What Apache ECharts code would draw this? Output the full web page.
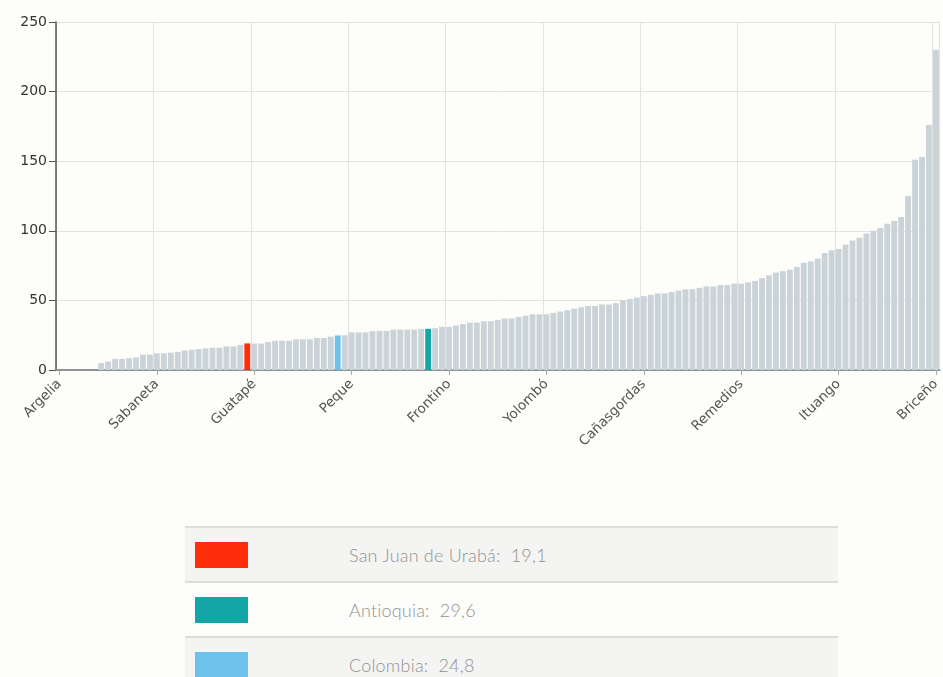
<!DOCTYPE html>
<html>
<head>
<meta charset="utf-8">
<script src="https://cdn.jsdelivr.net/npm/echarts@6/dist/echarts.min.js"></script>
<style>
  html, body { margin: 0; padding: 0; background: #fdfdf9; }
  #wrap { position: relative; width: 943px; height: 677px; overflow: hidden; }
  #chart { position: absolute; left: 0; top: 0; width: 943px; height: 677px; }
  #legend { position: absolute; left: 185px; top: 526px; width: 653px; border-collapse: collapse;
            font-family: "Lato", "Noto Sans", sans-serif; font-weight: 300; }
  #legend td { height: 53px; border-top: 2px solid #dcdcda; padding: 0; }
  #legend tr:nth-child(odd) td { background: #f4f4f2; }
  #legend tr:nth-child(even) td { background: #fdfdfb; }
  #legend .sw { width: 164px; }
  #legend .sw div { width: 53px; height: 26px; margin-left: 10px; }
  #legend .tx { color: #929292; font-size: 18px; letter-spacing: 0.2px; }
</style>
</head>
<body>
<div id="wrap">
  <div id="chart"></div>
  <table id="legend"></table>
</div>
<script>
// Tick-label categories (shown every 14th bar)
const labeledNames = ["Argelia", "Sabaneta", "Guatapé", "Peque", "Frontino", "Yolombó",
  "Cañasgordas", "Remedios", "Ituango", "Briceño"];
// Other municipalities (labels hidden in the chart)
const otherNames = ["Medellín", "Abejorral", "Abriaquí", "Alejandría", "Amagá", "Amalfi", "Andes",
  "Angelópolis", "Angostura", "Anorí", "Anzá", "Apartadó", "Arboletes", "Armenia", "Barbosa", "Bello",
  "Belmira", "Betania", "Betulia", "Buriticá", "Cáceres", "Caicedo", "Caldas", "Campamento", "Caracolí",
  "Caramanta", "Carepa", "Carolina del Príncipe", "Caucasia", "Chigorodó", "Cisneros", "Ciudad Bolívar",
  "Cocorná", "Concepción", "Concordia", "Copacabana", "Dabeiba", "Donmatías", "Ebéjico", "El Bagre",
  "El Carmen de Viboral", "El Peñol", "El Retiro", "El Santuario", "Entrerríos", "Envigado", "Fredonia",
  "Giraldo", "Girardota", "Gómez Plata", "Granada", "Guadalupe", "Guarne", "Heliconia", "Hispania",
  "Itagüí", "Jardín", "Jericó", "La Ceja", "La Estrella", "La Pintada", "La Unión", "Liborina", "Maceo",
  "Marinilla", "Montebello", "Murindó", "Mutatá", "Nariño", "Nechí", "Necoclí", "Olaya", "Pueblorrico",
  "Puerto Berrío", "Puerto Nare", "Puerto Triunfo", "Rionegro", "Sabanalarga", "Salgar",
  "San Andrés de Cuerquia", "San Carlos", "San Francisco", "San Jerónimo", "San José de la Montaña",
  "San Luis", "San Pedro de los Milagros", "San Pedro de Urabá", "San Rafael", "San Roque",
  "San Vicente Ferrer", "Santa Bárbara", "Santa Fe de Antioquia", "Santa Rosa de Osos", "Santo Domingo",
  "Segovia", "Sonsón", "Sopetrán", "Támesis", "Tarazá", "Tarso", "Titiribí", "Toledo", "Turbo", "Uramita",
  "Urrao", "Valdivia", "Valparaíso", "Vegachí", "Venecia", "Vigía del Fuerte", "Yalí", "Yarumal", "Yondó",
  "Zaragoza"];

// Highlighted bars
const highlightNames = ["San Juan de Urabá", "Antioquia", "Colombia"];
const highlightValues = [19.1, 29.6, 24.8];
const highlightPositions = [27, 53, 40];
const highlightColors = ["#ff2d0a", "#14a6a6", "#6dc2ec"];

// Bar values, sorted ascending
const values = [
  0, 0, 0, 0, 0, 0,
  5, 6, 8, 8, 8.5, 9, 11, 11, 12, 12, 12.5, 13, 14, 14.5, 15, 15.5,
  16, 16, 17, 17, 18, 19.1, 19, 19, 20, 21, 21, 21, 22, 22, 22, 23, 23, 24, 24.8, 25,
  27, 27, 27, 28, 28, 28, 29, 29, 29, 29, 29.5, 29.6, 30, 31, 31, 32, 33, 34, 34, 35, 35,
  36, 37, 37, 38, 39, 40, 40, 40, 41, 42, 43, 44, 45, 46, 46, 47, 47, 48, 50, 51, 52,
  53, 54, 55, 55, 56, 57, 58, 58, 59, 60, 60, 61, 61, 62, 62, 63, 64, 66, 68, 70,
  71, 72, 74, 77, 78, 80, 84, 86, 87, 90, 93, 95, 98, 100, 102, 105, 107, 110, 125, 151, 153, 176, 230
];

const yTicks = [0, 50, 100, 150, 200, 250];
const labelEvery = 14;

// Build category list
const categories = [];
let oi = 0;
for (let i = 0; i < values.length; i++) {
  const hp = highlightPositions.indexOf(i);
  if (hp >= 0) categories.push(highlightNames[hp]);
  else if (i % labelEvery === 0) categories.push(labeledNames[i / labelEvery]);
  else categories.push(otherNames[oi++]);
}

const chart = echarts.init(document.getElementById('chart'), null, { renderer: 'canvas' });
chart.setOption({
  animation: false,
  grid: { left: 56, right: 3, top: 22, bottom: 307 },
  xAxis: {
    type: 'category',
    data: categories,
    boundaryGap: true,
    axisLine: { show: true, lineStyle: { color: '#8f9294', width: 2 } },
    axisTick: { show: true, alignWithLabel: true, interval: labelEvery - 1, length: 5, lineStyle: { color: '#aaa' } },
    axisLabel: { interval: labelEvery - 1, rotate: 45, color: '#555', fontSize: 13.5,
                 fontFamily: 'DejaVu Sans', margin: 12 },
    splitLine: { show: true, interval: labelEvery - 1, lineStyle: { color: '#e3e3e3', width: 1 } }
  },
  yAxis: {
    type: 'value',
    min: yTicks[0], max: yTicks[yTicks.length - 1], interval: 50,
    axisLine: { show: true, lineStyle: { color: '#555', width: 1.5 } },
    axisTick: { show: true, length: 7, lineStyle: { color: '#555' } },
    axisLabel: { color: '#333', fontSize: 14, fontFamily: 'DejaVu Sans', margin: 9 },
    splitLine: { show: true, lineStyle: { color: '#e3e3e3', width: 1 } }
  },
  series: [{
    type: 'bar',
    data: values.map((v, i) => {
      const hp = highlightPositions.indexOf(i);
      return { value: v, itemStyle: { color: hp >= 0 ? highlightColors[hp] : '#c9d3d8' } };
    }),
    barCategoryGap: '16%'
  }]
});

// Legend table
const tbl = document.getElementById('legend');
highlightNames.forEach((n, k) => {
  const tr = document.createElement('tr');
  const td1 = document.createElement('td'); td1.className = 'sw';
  const sw = document.createElement('div'); sw.style.background = highlightColors[k];
  td1.appendChild(sw);
  const td2 = document.createElement('td'); td2.className = 'tx';
  td2.textContent = n + ':  ' + String(highlightValues[k]).replace('.', ',');
  td2.style.whiteSpace = 'pre';
  tr.appendChild(td1); tr.appendChild(td2);
  tbl.appendChild(tr);
});
</script>
</body>
</html>
